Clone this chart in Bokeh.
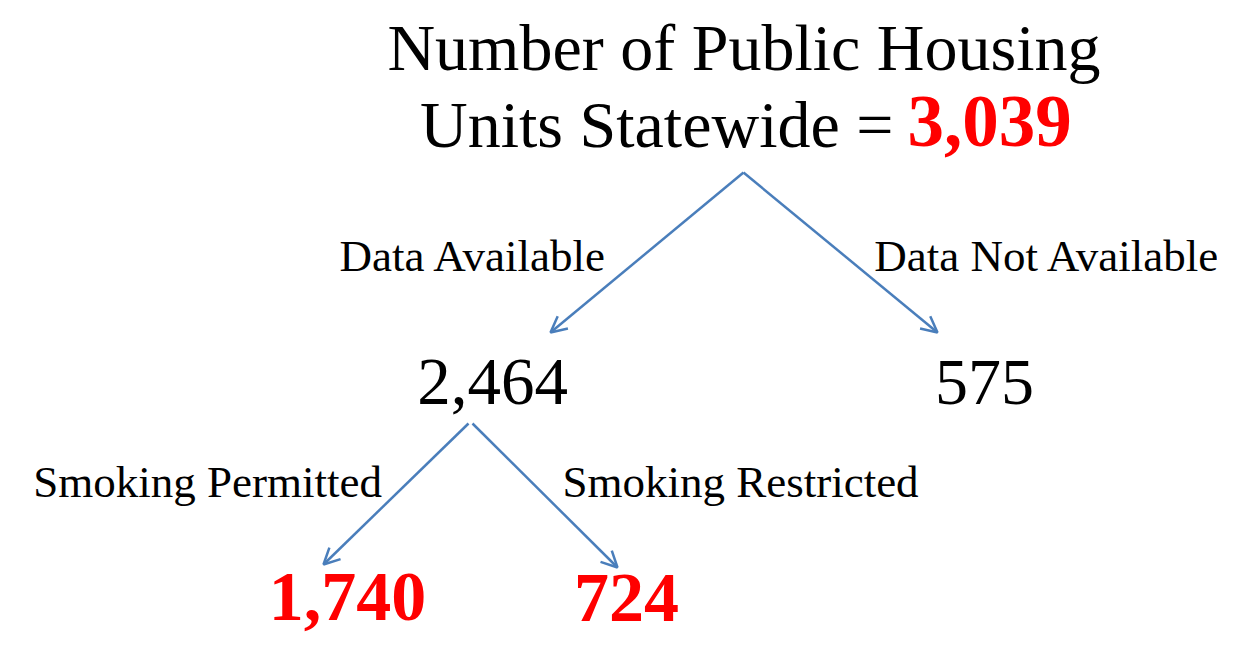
from bokeh.plotting import figure
from bokeh.models import Range1d, ColumnDataSource, Arrow, OpenHead
from bokeh.core.properties import value
from bokeh.embed import file_html
from bokeh.resources import INLINE

# ---- data ----
title_text = "Number of Public Housing"
title_text2 = "Units Statewide ="
node_names = ["Statewide", "Data Available", "Data Not Available", "Smoking Permitted", "Smoking Restricted"]
node_units = [3039, 2464, 575, 1740, 724]
node_highlight = [True, False, False, True, True]
branch_labels = ["Data Available", "Data Not Available", "Smoking Permitted", "Smoking Restricted"]
branch_parent = [0, 0, 1, 1]
branch_child = [1, 2, 3, 4]

# ---- layout (pixel positions in page coordinates) ----
FONT = "Liberation Serif"
RED = "#FF0000"
BLUE = "#4A7EBB"
W, H = 1217, 637
K = 0.35  # baseline correction factor (fraction of font size)


def by(baseline, size):
    return baseline - K * size


# number positions (center x, baseline y, font size) for nodes 1..4
num_pos = {1: (492, 405, 67), 2: (984, 405, 66), 3: (347, 621, 70), 4: (626, 622, 70)}
# branch label positions (center x, baseline y)
lab_pos = [(473, 271), (1047, 271), (207, 497), (740, 497)]
LAB_SIZE = 45
# arrow start / end
arrow_start = [(743, 172), (743, 172), (468, 423), (472, 423)]
arrow_end = [(550, 332), (937, 332), (323, 564), (617, 567)]

p = figure(width=W, height=H, output_backend="svg", toolbar_location=None,
           x_range=Range1d(0, W), y_range=Range1d(H, 0),
           min_border=0)
p.axis.visible = False
p.grid.visible = False
p.outline_line_color = None
p.background_fill_color = "white"
p.border_fill_color = "white"

# title
p.text(x=[743.5], y=[by(70, 66)], text=[title_text], text_font=value(FONT),
       text_font_size="66px", text_align="center", text_baseline="alphabetic",
       text_color="black")
p.text(x=[893], y=[by(147, 66)], text=[title_text2], text_font=value(FONT),
       text_font_size="66px", text_align="right", text_baseline="alphabetic",
       text_color="black")
p.text(x=[989], y=[by(147, 73)], text=[f"{node_units[0]:,}"], text_font=value(FONT),
       text_font_size="73px", text_font_style="bold", text_align="center",
       text_baseline="alphabetic", text_color=RED)

# node numbers
for i in range(1, len(node_units)):
    x, yb, sz = num_pos[i]
    hl = node_highlight[i]
    p.text(x=[x], y=[by(yb, sz)], text=[f"{node_units[i]:,}"], text_font=value(FONT),
           text_font_size=f"{sz}px",
           text_font_style="bold" if hl else "normal",
           text_align="center", text_baseline="alphabetic",
           text_color=RED if hl else "black")

# branch labels
src_lab = ColumnDataSource(dict(x=[a for a, b in lab_pos],
                                y=[by(b, LAB_SIZE) for a, b in lab_pos],
                                t=branch_labels))
p.text(x="x", y="y", text="t", source=src_lab, text_font=value(FONT),
       text_font_size=f"{LAB_SIZE}px", text_align="center", text_baseline="alphabetic",
       text_color="black")

# arrows
src_arr = ColumnDataSource(dict(
    x0=[s[0] for s in arrow_start], y0=[s[1] for s in arrow_start],
    x1=[e[0] for e in arrow_end], y1=[e[1] for e in arrow_end]))
p.add_layout(Arrow(end=OpenHead(size=16, line_color=BLUE, line_width=2.5),
                   x_start="x0", y_start="y0", x_end="x1", y_end="y1",
                   source=src_arr, line_color=BLUE, line_width=2.5))

open("out.html", "w").write(file_html(p, INLINE))
